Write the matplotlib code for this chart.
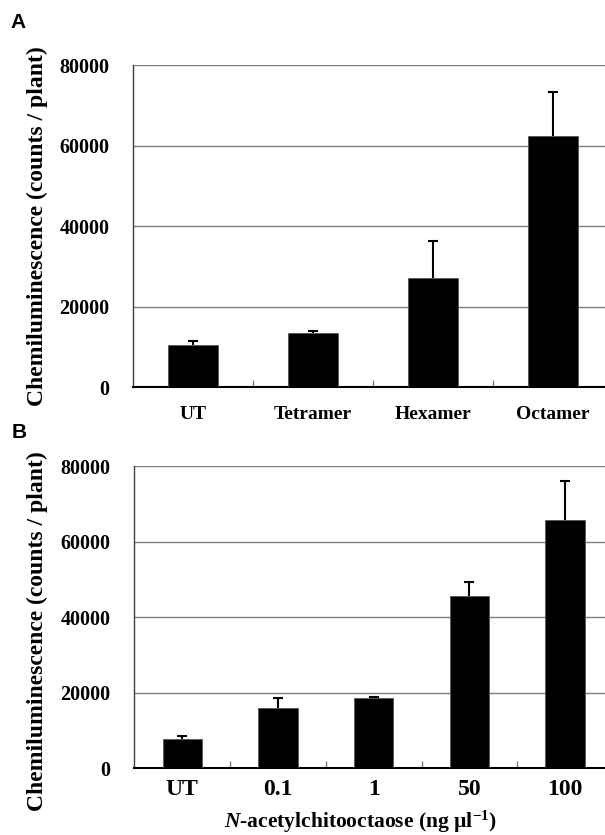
import matplotlib
matplotlib.use("Agg")
import matplotlib.pyplot as plt
import numpy as np

plt.rcParams['font.family'] = ['Liberation Serif', 'DejaVu Serif']
plt.rcParams['font.weight'] = 'bold'
plt.rcParams['mathtext.fontset'] = 'custom'
plt.rcParams['mathtext.rm'] = 'Liberation Serif:bold'
plt.rcParams['mathtext.it'] = 'Liberation Serif:italic:bold'

# panel A: chitin oligomers
oligomers = ["UT", "Tetramer", "Hexamer", "Octamer"]
oligo_mean = [10400, 13300, 27200, 62400]
oligo_err = [1100, 700, 9000, 11000]

# panel B: octamer dose
doses = ["UT", "0.1", "1", "50", "100"]
dose_mean = [7700, 16000, 18500, 45700, 65800]
dose_err = [900, 2500, 400, 3700, 10300]

yticks = [0, 20000, 40000, 60000, 80000]
ylab = "Chemiluminescence (counts / plant)"


def bar_panel(ax, labels, means, errs, xfs, xpad):
    n = len(labels)
    x = np.arange(n)
    ax.bar(x, means, width=0.41, color='black', edgecolor='#555555', linewidth=0.6, zorder=3)
    # upper error only; drawn under the bars, lower cap switched off
    eb = ax.errorbar(x, means, yerr=[np.zeros(n), errs], fmt='none', ecolor='black',
                     elinewidth=1.5, capsize=3.5, capthick=1.5, zorder=2)
    eb[1][0].set_visible(False)
    ax.set_xlim(-0.5, n - 0.5)
    ax.set_ylim(0, 80000)
    ax.set_yticks(yticks)
    ax.set_yticklabels([str(v) for v in yticks], fontsize=14.5, fontweight='bold')
    ax.yaxis.grid(True, color='#7f7f7f', linewidth=1.0, zorder=0)
    ax.set_xticks(x)
    ax.set_xticklabels(labels, fontsize=xfs, fontweight='bold')
    ax.set_xticks(np.arange(n - 1) + 0.5, minor=True)
    ax.tick_params(axis='x', which='major', length=0, pad=xpad)
    ax.tick_params(axis='x', which='minor', direction='in', length=5, color='#808080', width=1)
    ax.tick_params(axis='y', length=0, pad=17)
    ax.spines['top'].set_visible(False)
    ax.spines['right'].set_visible(False)
    ax.spines['left'].set_color('#404040')
    ax.spines['left'].set_linewidth(1.0)
    ax.spines['bottom'].set_linewidth(1.5)


fig = plt.figure(figsize=(6.05, 8.35), dpi=100)

axA = fig.add_axes([0.2198, 0.5365, 0.7934, 0.3856])
bar_panel(axA, oligomers, oligo_mean, oligo_err, 14, 14)

axB = fig.add_axes([0.222, 0.0799, 0.7912, 0.362])
bar_panel(axB, doses, dose_mean, dose_err, 17, 8)

fig.text(37 / 605, 1 - 226 / 835, ylab, rotation=90, ha='center', va='center',
         fontsize=17, fontweight='bold')
fig.text(37 / 605, 1 - 631 / 835, ylab, rotation=90, ha='center', va='center',
         fontsize=17, fontweight='bold')
fig.text(360 / 605, 1 - 822 / 835, r'$\it{N}$-acetylchitooctaose (ng µl$^{\mathrm{-1}}$)',
         ha='center', va='center', fontsize=15.5, fontweight='bold')

fig.text(10 / 605, 1 - 22 / 835, "A", fontfamily='Liberation Sans', fontweight='bold',
         fontsize=15, ha='left', va='center')
fig.text(12 / 605, 1 - 432 / 835, "B", fontfamily='Liberation Sans', fontweight='bold',
         fontsize=15, ha='left', va='center')

fig.savefig("out.png", dpi=100)
